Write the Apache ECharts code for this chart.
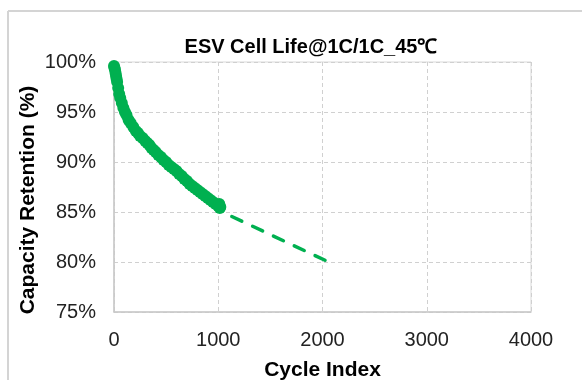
<!DOCTYPE html>
<html>
<head>
<meta charset="utf-8">
<script src="https://cdn.jsdelivr.net/npm/echarts@6/dist/echarts.min.js"></script>
<style>
  html, body { margin: 0; padding: 0; background: #fff; }
  #chart { width: 582px; height: 380px; }
</style>
</head>
<body>
<div id="chart"></div>
<script>
const cycles = [0, 5, 10, 15, 20, 25, 30, 40, 50, 60, 75, 90, 105, 120, 140, 160, 185, 210, 230, 250,
  275, 300, 320, 340, 360, 380, 400, 425, 450, 475, 500, 525, 550, 575, 600, 625, 650, 675, 700, 725,
  750, 775, 800, 825, 850, 875, 900, 925, 950, 975, 1000, 1010, 1015, 1020];
const retention = [99.6, 99.4, 99.2, 98.9, 98.6, 98.3, 98.0, 97.4, 96.8, 96.4, 95.9, 95.4, 95.0, 94.7, 94.2, 93.9, 93.5, 93.1, 92.9, 92.6,
  92.4, 92.1, 91.9, 91.7, 91.4, 91.2, 91.0, 90.7, 90.5, 90.2, 90.0, 89.7, 89.5, 89.3, 89.1, 88.8, 88.6, 88.3, 88.1, 87.8,
  87.6, 87.4, 87.2, 87.0, 86.8, 86.6, 86.4, 86.2, 86.0, 85.8, 85.6, 85.8, 85.4, 85.5];

// Projected fade (dashed)
const projCycles = [1130, 2070];
const projRetention = [84.55, 79.95];

const xTicks = [0, 1000, 2000, 3000, 4000];
const yTicks = [75, 80, 85, 90, 95, 100];

const green = '#00b050';
const font = 'Arial, "Liberation Sans", sans-serif';

const chart = echarts.init(document.getElementById('chart'), null, { renderer: 'canvas' });

const option = {
    animation: false,
    title: {
        text: 'ESV Cell Life@1C/1C_45\u2103',
        left: 306,
        top: 32,
        textAlign: 'center',
        textStyle: { fontFamily: font, fontWeight: 'bold', fontSize: 20, color: '#000' }
    },
    graphic: [
        { type: 'line', shape: { x1: 8, y1: 11, x2: 582, y2: 11 }, style: { stroke: '#d4d4d4', lineWidth: 2 } },
        { type: 'line', shape: { x1: 8, y1: 11, x2: 8, y2: 380 }, style: { stroke: '#d4d4d4', lineWidth: 2 } },
        {
            type: 'text', x: 28, y: 200, rotation: Math.PI / 2,
            style: {
                text: 'Capacity Retention (%)', fill: '#000',
                font: 'bold 21px ' + font, textAlign: 'center', textVerticalAlign: 'middle'
            }
        }
    ],
    grid: {
        left: 114, right: 51, top: 62, bottom: 68,
        outerBoundsMode: 'none',
        show: true, borderColor: '#d9d9d9', borderWidth: 1
    },
    xAxis: {
        type: 'value',
        min: xTicks[0], max: xTicks[xTicks.length - 1], interval: 1000,
        name: 'Cycle Index',
        nameLocation: 'middle',
        nameGap: 48,
        nameTextStyle: { fontFamily: font, fontWeight: 'bold', fontSize: 21, color: '#000' },
        axisLine: { lineStyle: { color: '#c8c8c8', width: 1.5 } },
        axisTick: { show: false },
        axisLabel: { fontFamily: font, fontSize: 20, color: '#222', margin: 18, formatter: v => String(v) },
        splitLine: { lineStyle: { color: '#d0d0d0', type: [4, 3] } }
    },
    yAxis: {
        type: 'value',
        min: yTicks[0], max: yTicks[yTicks.length - 1], interval: 5,
        axisLine: { show: true, lineStyle: { color: '#c8c8c8', width: 1.5 } },
        axisTick: { show: false },
        axisLabel: { fontFamily: font, fontSize: 20, color: '#222', margin: 18, formatter: '{value}%' },
        splitLine: { lineStyle: { color: '#d0d0d0', type: [4, 3] } }
    },
    series: [
        {
            type: 'scatter',
            data: cycles.map((c, i) => [c, retention[i]]),
            symbol: 'circle',
            symbolSize: 12,
            itemStyle: { color: green, opacity: 1 }
        },
        {
            type: 'line',
            data: projCycles.map((c, i) => [c, projRetention[i]]),
            showSymbol: false,
            lineStyle: { color: green, width: 3.5, type: [11, 12], cap: 'round' }
        }
    ]
};

chart.setOption(option);
</script>
</body>
</html>
